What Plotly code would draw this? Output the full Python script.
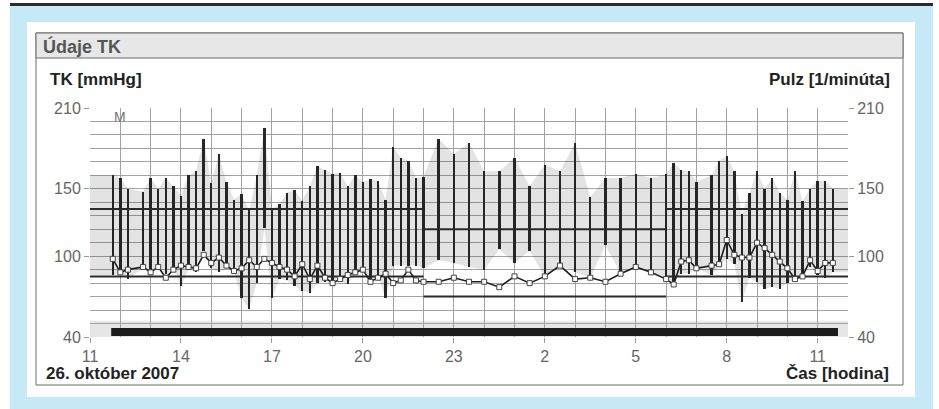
import plotly.graph_objects as go

# ---------------- data ----------------
# measurement times, hours counted from 0:00 of 26 Oct (24+ = next day)
times = [11.75, 12.0, 12.25, 12.75, 13.0, 13.25, 13.5, 13.75, 14.0, 14.25, 14.5, 14.75,
         15.0, 15.25, 15.5, 15.75, 16.0, 16.25, 16.5, 16.75, 17.0, 17.25, 17.5, 17.75,
         18.0, 18.25, 18.5, 18.75, 19.0, 19.25, 19.5, 19.75, 20.0, 20.25, 20.5, 20.75,
         21.0, 21.25, 21.5, 21.75, 22.0,
         22.5, 23.0, 23.5, 24.0, 24.5, 25.0, 25.5, 26.0, 26.5, 27.0, 27.5, 28.0, 28.5,
         29.0, 29.5,
         30.0, 30.25, 30.5, 30.75, 31.0, 31.5, 31.75, 32.0, 32.25, 32.5, 32.75, 33.0,
         33.25, 33.5, 33.75, 34.0, 34.25, 34.5, 34.75, 35.0, 35.25, 35.5]

systolic = [160, 158, 150, 148, 158, 150, 158, 152, 145, 160, 163, 187,
            154, 176, 155, 142, 146, 134, 160, 195, 135, 139, 147, 149,
            141, 152, 167, 164, 161, 162, 152, 160, 155, 157, 156, 142,
            181, 173, 171, 158, 159,
            187, 176, 184, 163, 163, 173, 152, 168, 163, 184, 144, 158, 158,
            161, 158,
            161, 169, 164, 163, 155, 160, 171, 174, 163, 131, 147, 163,
            150, 158, 147, 142, 163, 141, 150, 156, 156, 150]

diastolic = [86, 87, 83, 91, 86, 91, 87, 91, 78, 90, 88, 104,
             91, 88, 91, 88, 69, 61, 80, 121, 69, 83, 82, 78,
             74, 73, 80, 81, 80, 82, 79, 87, 89, 80, 85, 69,
             93, 93, 93, 93, 91,
             97, 95, 92, 90, 105, 95, 104, 85, 93, 88, 84, 108, 87,
             92, 88,
             84, 80, 87, 87, 91, 86, 93, 98, 94, 66, 84, 81,
             76, 77, 76, 80, 83, 87, 92, 86, 84, 88]

pulse = [98, 88, 90, 92, 88, 92, 84, 90, 93, 92, 91, 101,
         95, 99, 93, 89, 91, 97, 92, 98, 95, 92, 90, 85,
         94, 83, 93, 84, 80, 83, 86, 88, 90, 81, 84, 87,
         80, 82, 90, 82, 81,
         81, 84, 81, 81, 77, 85, 80, 85, 93, 83, 84, 81, 87,
         92, 88,
         83, 79, 96, 97, 91, 93, 94, 112, 101, 99, 99, 110,
         106, 101, 96, 91, 83, 85, 97, 89, 95, 95]

x_tick_vals = [11, 14, 17, 20, 23, 26, 29, 32, 35]
x_tick_text = ["11", "14", "17", "20", "23", "2", "5", "8", "11"]
y_tick_vals = [40, 100, 150, 210]

x_range = [11, 36]
y_range = [40, 210]

day_limits = [135, 85]      # systolic / diastolic limit, day
night_limits = [120, 70]    # systolic / diastolic limit, night
night_period = [22, 30]
record_period = [11.7, 35.67]
manual_mark = (12.0, 203, "M")

# ---------------- geometry helpers (frame decoration only) ----------------
W, H = 939, 409
ML, MR, MT, MB = 90, 91, 108, 72
PW, PH = W - ML - MR, H - MT - MB


def px(x):
    return (x - ML) / PW


def py(y):
    return (H - MB - y) / PH


FONT = "Liberation Sans, Arial, sans-serif"
fig = go.Figure()

# gray envelope between systolic and diastolic
band_x = [x_range[0]] + times + [x_range[1]]
band_sys = [systolic[0]] + systolic + [systolic[-1]]
band_dia = [diastolic[0]] + diastolic + [diastolic[-1]]
fig.add_trace(go.Scatter(
    x=band_x + band_x[::-1], y=band_sys + band_dia[::-1],
    fill="toself", fillcolor="rgba(0,0,0,0.11)", mode="none",
    hoverinfo="skip", showlegend=False))

# blood pressure bars
fig.add_trace(go.Bar(
    x=times, y=[s - d for s, d in zip(systolic, diastolic)], base=diastolic,
    width=0.08, marker=dict(color="#2a2a2a", line=dict(width=0)),
    showlegend=False))

# limit lines
for i in range(2):
    fig.add_trace(go.Scatter(
        x=[x_range[0], night_period[0], None, night_period[1], x_range[1]],
        y=[day_limits[i], day_limits[i], None, day_limits[i], day_limits[i]],
        mode="lines", line=dict(color="#2a2a2a", width=2), showlegend=False,
        hoverinfo="skip"))
    fig.add_trace(go.Scatter(
        x=night_period, y=[night_limits[i]] * 2,
        mode="lines", line=dict(color="#2a2a2a", width=2), showlegend=False,
        hoverinfo="skip"))

# pulse
fig.add_trace(go.Scatter(
    x=times, y=pulse, yaxis="y2", mode="lines+markers",
    line=dict(color="#1e1e1e", width=1.6),
    marker=dict(symbol="square", size=5, color="white",
                line=dict(color="#444", width=1)),
    showlegend=False))

shapes = [
    dict(type="rect", xref="paper", yref="paper", x0=px(10), x1=px(933), y0=py(6), y1=py(409),
         fillcolor="#c6e8f7", line=dict(width=0), layer="below"),
    dict(type="rect", xref="paper", yref="paper", x0=px(10), x1=px(933), y0=py(3), y1=py(6),
         fillcolor="#2b2b2b", line=dict(width=0), layer="below"),
    dict(type="rect", xref="paper", yref="paper", x0=px(27), x1=px(915), y0=py(22), y1=py(397),
         fillcolor="white", line=dict(width=0), layer="below"),
    dict(type="rect", xref="paper", yref="paper", x0=px(36), x1=px(903), y0=py(33), y1=py(385),
         fillcolor="white", line=dict(color="#6a6a6a", width=1), layer="below"),
    dict(type="rect", xref="paper", yref="paper", x0=px(36), x1=px(903), y0=py(33), y1=py(58),
         fillcolor="#e7e7e7", line=dict(color="#6a6a6a", width=1), layer="below"),
    dict(type="rect", xref="x", yref="y", x0=x_range[0], x1=x_range[1], y0=40, y1=52,
         fillcolor="#e6e6e6", line=dict(width=0), layer="below"),
    dict(type="rect", xref="x", yref="y", x0=record_period[0], x1=record_period[1],
         y0=40.7, y1=46.7, fillcolor="#1c1c1c", line=dict(width=0), layer="above"),
]

annotations = [
    dict(text="<b>Údaje TK</b>", xref="paper", yref="paper", x=px(41), y=py(46),
         xanchor="left", yanchor="middle", showarrow=False,
         font=dict(family=FONT, size=18, color="#555555")),
    dict(text="<b>TK [mmHg]</b>", xref="paper", yref="paper", x=px(48), y=py(80),
         xanchor="left", yanchor="middle", showarrow=False,
         font=dict(family=FONT, size=17, color="#222")),
    dict(text="<b>Pulz [1/minúta]</b>", xref="paper", yref="paper", x=px(892), y=py(80),
         xanchor="right", yanchor="middle", showarrow=False,
         font=dict(family=FONT, size=17, color="#222")),
    dict(text="<b>26. október 2007</b>", xref="paper", yref="paper", x=px(44), y=py(373),
         xanchor="left", yanchor="middle", showarrow=False,
         font=dict(family=FONT, size=17, color="#222")),
    dict(text="<b>Čas [hodina]</b>", xref="paper", yref="paper", x=px(891), y=py(373),
         xanchor="right", yanchor="middle", showarrow=False,
         font=dict(family=FONT, size=17, color="#222")),
    dict(text=manual_mark[2], xref="x", yref="y", x=manual_mark[0], y=manual_mark[1],
         xanchor="center", yanchor="middle", showarrow=False,
         font=dict(family=FONT, size=14, color="#777")),
]

grid = "#a2a2a2"
axis_common = dict(showline=False, zeroline=False, ticks="outside", ticklen=5,
                   tickcolor="#999", tickfont=dict(family=FONT, size=16, color="#666"))

fig.update_layout(
    width=W, height=H, autosize=False,
    margin=dict(l=ML, r=MR, t=MT, b=MB, pad=0),
    paper_bgcolor="white", plot_bgcolor="white",
    font=dict(family=FONT),
    showlegend=False, bargap=0,
    xaxis=dict(range=x_range, tickmode="array", tickvals=x_tick_vals, ticktext=x_tick_text,
               showgrid=True, gridcolor=grid, gridwidth=1,
               minor=dict(dtick=1, tick0=11, showgrid=True, gridcolor=grid, gridwidth=1),
               **axis_common),
    yaxis=dict(range=y_range, tickmode="array", tickvals=y_tick_vals,
               showgrid=True, gridcolor=grid, gridwidth=1,
               minor=dict(dtick=10, tick0=40, showgrid=True, gridcolor=grid, gridwidth=1),
               **axis_common),
    yaxis2=dict(range=y_range, tickmode="array", tickvals=y_tick_vals, overlaying="y",
                side="right", showgrid=False, **axis_common),
    shapes=shapes, annotations=annotations,
)

fig.write_html("out.html", config={"displayModeBar": False},
               post_script="document.body.style.margin='0';document.body.style.overflow='hidden';")
